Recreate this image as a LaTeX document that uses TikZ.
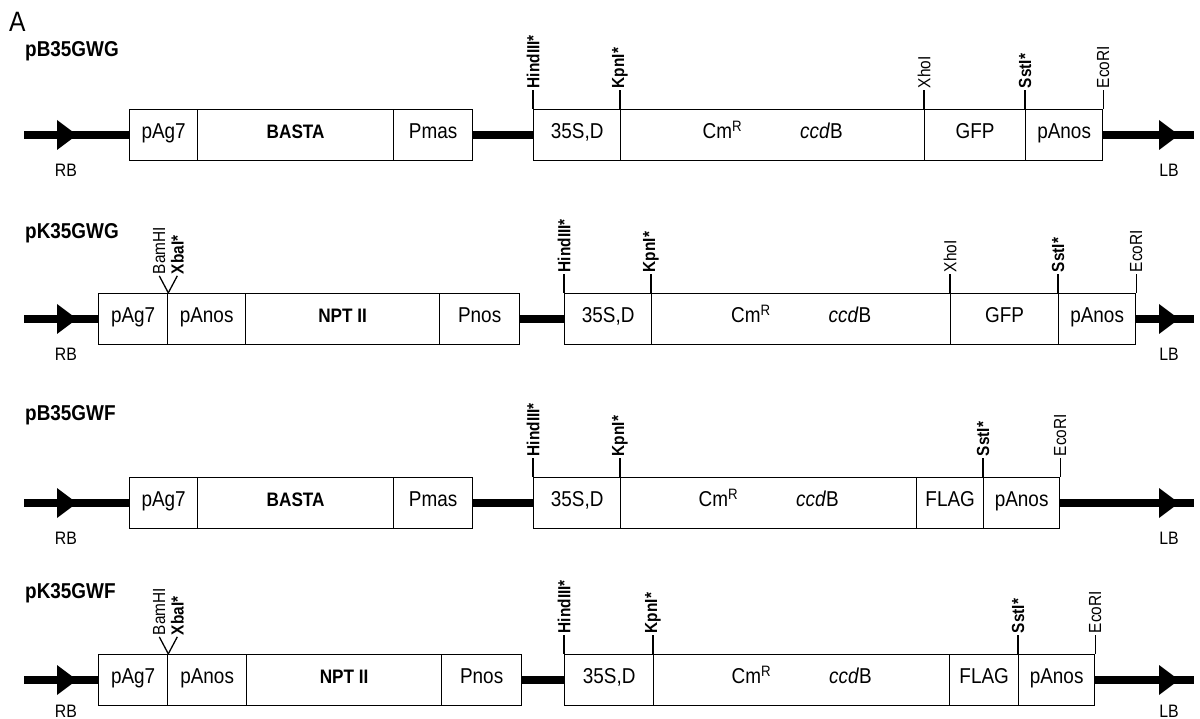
\documentclass[tikz,border=0pt]{standalone}
\usepackage{fontspec}
\setmainfont{Liberation Sans}[FakeStretch=0.88]
\newcommand\fsz[1]{\fontsize{#1}{#1}\selectfont}
\newcommand\segbox[5]{\node[#1, minimum width=#4-#3] (#2) at (#3,0) {#5};}
\newcommand\cmccd{Cm\textsuperscript{R}\hspace{58pt}\textit{ccd}B}
\begin{document}
\begin{tikzpicture}[x=1pt,y=-1pt,
  seg/.style={draw, line width=1.3pt, minimum height=51pt, inner sep=0pt, anchor=west,
    font=\fsz{21.5}, text height=0.72em, text depth=0pt},
  segb/.style={seg, font=\fsz{19.5}\bfseries},
  backbone/.style={line width=8pt},
  tick/.style={line width=1.3pt},
  sitebold/.style={rotate=90, anchor=west, inner sep=1.5pt, font=\fsz{17.5}\bfseries},
  sitereg/.style={rotate=90, anchor=west, inner sep=1.5pt, font=\fsz{17.5}},
  ttl/.style={anchor=west, inner sep=0pt, font=\fsz{21.5}\bfseries},
  border/.style={inner sep=0pt, font=\fsz{18}},
  tipfill/.style={fill=black}
]
\useasboundingbox (0,0) rectangle (1200,719);
\node[anchor=west, inner sep=0pt, font=\fsz{28}] (panel) at (9,22) {A};

% ---------- Row 1: pB35GWG ----------
\begin{scope}[shift={(0,135)}]
\node[ttl] (aT) at (25,-84) {pB35GWG};
\coordinate (aS) at (24,0); \coordinate (aE) at (1194,0);
\segbox{seg}{a1}{129}{197}{pAg7}
\segbox{segb}{a2}{197}{393}{BASTA}
\segbox{seg}{a3}{393}{472}{Pmas}
\segbox{seg}{a4}{533}{620}{35S,D}
\segbox{seg}{a5}{620}{924}{\cmccd}
\segbox{seg}{a6}{924}{1025}{GFP}
\segbox{seg}{a7}{1025}{1102}{pAnos}
\draw[backbone] (aS) -- (a1.west);
\draw[backbone] (a3.east) -- (a4.west);
\draw[backbone] (a7.east) -- (aE);
\fill[tipfill] (57,-15) -- (77,0) -- (57,15) -- cycle;
\fill[tipfill] (1159,-15) -- (1179,0) -- (1159,15) -- cycle;
\node[border] (aRB) at (66,35) {RB};
\node[border] (aLB) at (1169,35) {LB};
\draw[tick] (a4.north west) -- ++(0,-19) coordinate (aH);
\draw[tick] (a5.north west) -- ++(0,-19) coordinate (aK);
\draw[tick] (a6.north west) -- ++(0,-19) coordinate (aX);
\draw[tick] (a7.north west) -- ++(0,-19) coordinate (aSs);
\draw[tick] (a7.north east) -- ++(0,-19) coordinate (aEc);
\node[sitebold] at (aH) {HindIII*};
\node[sitebold] at (aK) {KpnI*};
\node[sitereg] at (aX) {XhoI};
\node[sitebold] at (aSs) {SstI*};
\node[sitereg] at (aEc) {EcoRI};
\end{scope}

% ---------- Row 2: pK35GWG ----------
\begin{scope}[shift={(0,319)}]
\node[ttl] (bT) at (25,-86) {pK35GWG};
\coordinate (bS) at (24,0); \coordinate (bE) at (1194,0);
\segbox{seg}{b1}{98}{167}{pAg7}
\segbox{seg}{b2}{167}{245}{pAnos}
\segbox{segb}{b3}{245}{439}{NPT II}
\segbox{seg}{b4}{439}{519}{Pnos}
\segbox{seg}{b5}{564}{651}{35S,D}
\segbox{seg}{b6}{651}{950}{\cmccd}
\segbox{seg}{b7}{950}{1058}{GFP}
\segbox{seg}{b8}{1058}{1135}{pAnos}
\draw[backbone] (bS) -- (b1.west);
\draw[backbone] (b4.east) -- (b5.west);
\draw[backbone] (b8.east) -- (bE);
\fill[tipfill] (57,-15) -- (77,0) -- (57,15) -- cycle;
\fill[tipfill] (1159,-15) -- (1179,0) -- (1159,15) -- cycle;
\node[border] (bRB) at (66,35) {RB};
\node[border] (bLB) at (1169,35) {LB};
\draw[tick] (b1.north east) -- ++(-9,-17) coordinate (bBa);
\draw[tick] (b1.north east) -- ++(9,-17) coordinate (bXb);
\draw[tick] (b5.north west) -- ++(0,-19) coordinate (bH);
\draw[tick] (b6.north west) -- ++(0,-19) coordinate (bK);
\draw[tick] (b7.north west) -- ++(0,-19) coordinate (bX);
\draw[tick] (b8.north west) -- ++(0,-19) coordinate (bSs);
\draw[tick] (b8.north east) -- ++(0,-19) coordinate (bEc);
\node[sitereg] at (bBa) {BamHI};
\node[sitebold] at (bXb) {XbaI*};
\node[sitebold] at (bH) {HindIII*};
\node[sitebold] at (bK) {KpnI*};
\node[sitereg] at (bX) {XhoI};
\node[sitebold] at (bSs) {SstI*};
\node[sitereg] at (bEc) {EcoRI};
\end{scope}

% ---------- Row 3: pB35GWF ----------
\begin{scope}[shift={(0,503)}]
\node[ttl] (cT) at (25,-88) {pB35GWF};
\coordinate (cS) at (24,0); \coordinate (cE) at (1194,0);
\segbox{seg}{c1}{129}{197}{pAg7}
\segbox{segb}{c2}{197}{393}{BASTA}
\segbox{seg}{c3}{393}{472}{Pmas}
\segbox{seg}{c4}{533}{620}{35S,D}
\segbox{seg}{c5}{620}{916}{\cmccd}
\segbox{seg}{c6}{916}{983}{FLAG}
\segbox{seg}{c7}{983}{1059}{pAnos}
\draw[backbone] (cS) -- (c1.west);
\draw[backbone] (c3.east) -- (c4.west);
\draw[backbone] (c7.east) -- (cE);
\fill[tipfill] (57,-15) -- (77,0) -- (57,15) -- cycle;
\fill[tipfill] (1159,-15) -- (1179,0) -- (1159,15) -- cycle;
\node[border] (cRB) at (66,35) {RB};
\node[border] (cLB) at (1169,35) {LB};
\draw[tick] (c4.north west) -- ++(0,-19) coordinate (cH);
\draw[tick] (c5.north west) -- ++(0,-19) coordinate (cK);
\draw[tick] (c7.north west) -- ++(0,-19) coordinate (cSs);
\draw[tick] (c7.north east) -- ++(0,-19) coordinate (cEc);
\node[sitebold] at (cH) {HindIII*};
\node[sitebold] at (cK) {KpnI*};
\node[sitebold] at (cSs) {SstI*};
\node[sitereg] at (cEc) {EcoRI};
\end{scope}

% ---------- Row 4: pK35GWF ----------
\begin{scope}[shift={(0,680)}]
\node[ttl] (dT) at (25,-87) {pK35GWF};
\coordinate (dS) at (24,0); \coordinate (dE) at (1194,0);
\segbox{seg}{d1}{98}{167}{pAg7}
\segbox{seg}{d2}{167}{246}{pAnos}
\segbox{segb}{d3}{246}{441}{NPT II}
\segbox{seg}{d4}{441}{521}{Pnos}
\segbox{seg}{d5}{564}{653}{35S,D}
\segbox{seg}{d6}{653}{949}{\cmccd}
\segbox{seg}{d7}{949}{1018}{FLAG}
\segbox{seg}{d8}{1018}{1094}{pAnos}
\draw[backbone] (dS) -- (d1.west);
\draw[backbone] (d4.east) -- (d5.west);
\draw[backbone] (d8.east) -- (dE);
\fill[tipfill] (57,-15) -- (77,0) -- (57,15) -- cycle;
\fill[tipfill] (1159,-15) -- (1179,0) -- (1159,15) -- cycle;
\node[border] (dRB) at (66,31) {RB};
\node[border] (dLB) at (1169,31) {LB};
\draw[tick] (d1.north east) -- ++(-9,-17) coordinate (dBa);
\draw[tick] (d1.north east) -- ++(9,-17) coordinate (dXb);
\draw[tick] (d5.north west) -- ++(0,-19) coordinate (dH);
\draw[tick] (d6.north west) -- ++(0,-19) coordinate (dK);
\draw[tick] (d8.north west) -- ++(0,-19) coordinate (dSs);
\draw[tick] (d8.north east) -- ++(0,-19) coordinate (dEc);
\node[sitereg] at (dBa) {BamHI};
\node[sitebold] at (dXb) {XbaI*};
\node[sitebold] at (dH) {HindIII*};
\node[sitebold] at (dK) {KpnI*};
\node[sitebold] at (dSs) {SstI*};
\node[sitereg] at (dEc) {EcoRI};
\end{scope}
\end{tikzpicture}
\end{document}
